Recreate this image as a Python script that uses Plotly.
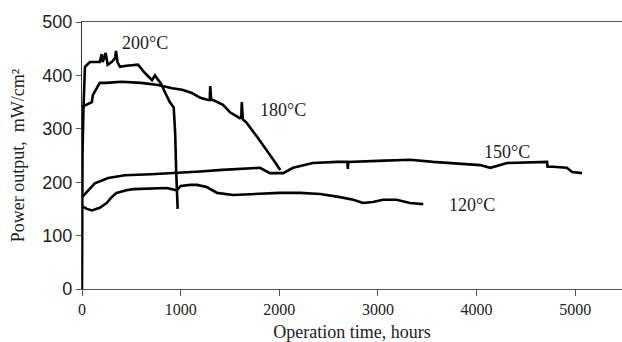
import plotly.graph_objects as go

# ---- data ----
x200 = [0, 5, 15, 30, 80, 180, 200, 210, 240, 260, 300, 335, 345, 360, 385, 450, 568, 640, 710, 740, 770, 800, 840, 890, 930, 945, 955, 962, 970]
y200 = [0, 250, 340, 416, 425, 425, 440, 425, 442, 420, 425, 432, 446, 425, 416, 418, 420, 404, 391, 400, 392, 385, 369, 350, 340, 290, 220, 170, 150]

x180 = [0, 50, 100, 110, 150, 180, 250, 400, 600, 770, 915, 1015, 1115, 1200, 1280, 1295, 1300, 1310, 1330, 1430, 1500, 1600, 1615, 1620, 1630, 1670, 1775, 1875, 1940, 2010]
y180 = [341, 345, 350, 363, 376, 386, 386, 388, 386, 382, 376, 373, 367, 358, 354, 354, 380, 354, 354, 345, 331, 320, 322, 350, 318, 311, 285, 260, 242, 223]

x150 = [0, 130, 265, 435, 700, 943, 1200, 1420, 1805, 1905, 2040, 2140, 2340, 2585, 2690, 2695, 2700, 3000, 3325, 3560, 3730, 4035, 4140, 4310, 4715, 4720, 4775, 4915, 4970, 5070]
y150 = [172, 198, 208, 213, 215, 217, 220, 223, 227, 217, 217, 227, 236, 238, 238, 225, 238, 240, 242, 238, 236, 232, 227, 236, 238, 229, 229, 227, 219, 217]

x120 = [0, 50, 100, 180, 250, 300, 350, 450, 520, 700, 860, 960, 1000, 1100, 1165, 1265, 1370, 1530, 1800, 2000, 2210, 2415, 2615, 2750, 2850, 2950, 3050, 3190, 3325, 3460]
y120 = [155, 150, 147, 152, 161, 172, 180, 185, 187, 188, 189, 185, 193, 195, 195, 191, 180, 176, 178, 180, 180, 178, 172, 167, 161, 163, 167, 167, 161, 159]

labels = ["200°C", "180°C", "150°C", "120°C"]
label_x = [640, 2040, 4310, 3955]
label_y = [460, 335, 257, 157]

x_ticks = [0, 1000, 2000, 3000, 4000, 5000]
y_ticks = [0, 100, 200, 300, 400, 500]

fig = go.Figure()
for xs, ys in [(x200, y200), (x180, y180), (x150, y150), (x120, y120)]:
    fig.add_trace(go.Scatter(x=xs, y=ys, mode="lines",
                             line=dict(color="black", width=2.6),
                             showlegend=False, hoverinfo="skip"))

for t, lx, ly in zip(labels, label_x, label_y):
    fig.add_annotation(x=lx, y=ly, text=t, showarrow=False,
                       font=dict(family="Liberation Serif", size=18, color="#222"))

fig.update_layout(
    width=622, height=342,
    margin=dict(l=82, r=0, t=22, b=53),
    paper_bgcolor="white", plot_bgcolor="white",
    xaxis=dict(range=[0, 5475], tickvals=x_ticks, showgrid=False, zeroline=False,
               automargin=False,
               showline=True, linecolor="#555", linewidth=1.2, mirror=True,
               ticks="outside", ticklen=6, tickcolor="#555",
               tickfont=dict(family="Liberation Serif", size=16, color="#222"),
               title=dict(text="Operation time, hours", standoff=13,
                          font=dict(family="Liberation Serif", size=18, color="#222"))),
    yaxis=dict(range=[0, 500], tickvals=y_ticks, showgrid=False, zeroline=False,
               automargin=False,
               showline=True, linecolor="#333", linewidth=1.2,
               ticks="outside", ticklen=5, tickcolor="#555",
               tickfont=dict(family="Liberation Sans", size=18, color="#222"),
               title=dict(text="Power output,  mW/cm²", standoff=12,
                          font=dict(family="Liberation Serif", size=18, color="#222"))),
)

fig.write_html("out.html")
